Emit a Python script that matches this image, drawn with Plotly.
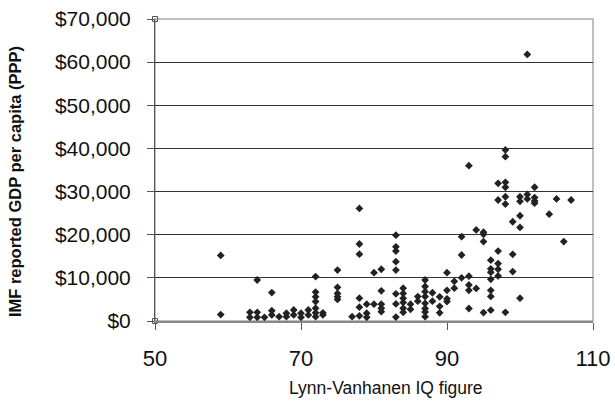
import plotly.graph_objects as go

# Lynn-Vanhanen IQ figure (x) and IMF GDP per capita PPP (y)
iq = (
    [59, 59]
    + [63, 63]
    + [64, 64, 64]
    + [65]
    + [66, 66, 66]
    + [67]
    + [68, 68]
    + [69, 69]
    + [70, 70]
    + [71, 71]
    + [72] * 7
    + [73, 73]
    + [75] * 5
    + [77]
    + [78] * 6
    + [79] * 3
    + [80, 80]
    + [81] * 5
    + [83] * 8
    + [84] * 6
    + [85, 85]
    + [86, 86]
    + [87] * 8
    + [88, 88]
    + [89] * 3
    + [90] * 4
    + [91, 91]
    + [92] * 3
    + [93] * 5
    + [94, 94]
    + [95] * 4
    + [96] * 7
    + [97] * 6
    + [98] * 7
    + [99] * 3
    + [100] * 5
    + [101] * 3
    + [102] * 4
    + [104]
    + [105]
    + [106]
    + [107]
)

gdp = (
    [15200, 1500]
    + [2000, 850]
    + [9500, 2000, 850]
    + [850]
    + [6600, 2400, 1400]
    + [1000]
    + [1800, 1000]
    + [2550, 1400]
    + [1800, 850]
    + [2550, 1400]
    + [10300, 6700, 5600, 4500, 2950, 1900, 1000]
    + [1900, 1400]
    + [11800, 7800, 6400, 5600, 5000]
    + [1000]
    + [26100, 17850, 15500, 5300, 3200, 1200]
    + [3900, 1800, 850]
    + [11200, 3900]
    + [12000, 7000, 3900, 2950, 2150]
    + [19900, 17200, 16200, 13750, 11800, 6300, 3950, 900]
    + [7600, 6400, 5250, 4300, 2950, 2000]
    + [3900, 2700]
    + [5650, 4600]
    + [9500, 8000, 6800, 5650, 4100, 2900, 2100, 1000]
    + [6550, 4600]
    + [5600, 3400, 1900]
    + [11200, 7100, 5150, 4500]
    + [9200, 7600]
    + [19550, 15300, 10000]
    + [36000, 10400, 8350, 7100, 2900]
    + [21100, 7550]
    + [20600, 20100, 18400, 1950]
    + [14100, 12100, 11300, 9650, 7100, 5700, 2500]
    + [31900, 28050, 16200, 13300, 12000, 10450]
    + [39650, 38100, 32150, 31000, 28800, 27100, 2000]
    + [23000, 15450, 11450]
    + [28800, 27750, 24400, 21700, 5300]
    + [61800, 29350, 28300]
    + [31000, 28600, 27800, 27300]
    + [24750]
    + [28300]
    + [18400]
    + [28050]
)

# corner anchor points visible at the axis extremes
anchor_x = [50, 50]
anchor_y = [0, 70000]

x_ticks = [50, 70, 90, 110]
y_ticks = [0, 10000, 20000, 30000, 40000, 50000, 60000, 70000]
y_tick_labels = ["$0", "$10,000", "$20,000", "$30,000", "$40,000",
                 "$50,000", "$60,000", "$70,000"]

x_title = "Lynn-Vanhanen IQ figure"
y_title = "IMF reported GDP per capita (PPP)"

FONT = "Liberation Sans, Arial, sans-serif"

fig = go.Figure()
fig.add_trace(go.Scatter(
    x=anchor_x, y=anchor_y, mode="markers",
    marker=dict(symbol="square-open", size=5, color="#555555", line=dict(width=1)),
    hoverinfo="skip", showlegend=False, cliponaxis=False,
))
fig.add_trace(go.Scatter(
    x=iq, y=gdp, mode="markers",
    marker=dict(symbol="diamond", size=6, color="#222222", line=dict(width=0)),
    showlegend=False, cliponaxis=False,
))

fig.update_layout(
    width=615, height=402,
    margin=dict(l=155, r=22, t=19, b=81),
    paper_bgcolor="white", plot_bgcolor="white",
    font=dict(family=FONT, color="#111111"),
    xaxis=dict(
        range=[50, 110], tickvals=x_ticks, showgrid=False, zeroline=False,
        showline=True, linecolor="#888888", linewidth=2, automargin=False,
        ticks="outside", ticklen=7, tickcolor="#555555", tickwidth=1,
        tickfont=dict(size=22, family=FONT, color="#111111"),
        ticklabelstandoff=10,
    ),
    yaxis=dict(
        range=[0, 70000], tickvals=y_ticks, ticktext=y_tick_labels,
        showgrid=True, gridcolor="#333333", gridwidth=1, zeroline=False,
        showline=True, linecolor="#555555", linewidth=1, automargin=False,
        ticks="outside", ticklen=7, tickcolor="#555555", tickwidth=1,
        tickfont=dict(size=21, family=FONT, color="#111111"),
        ticklabelstandoff=12,
    ),
    shapes=[dict(
        type="rect", xref="paper", yref="paper", x0=0, x1=1, y0=0, y1=1,
        line=dict(color="#aaaaaa", width=1.5), layer="below",
    )],
    annotations=[
        dict(text=x_title, xref="paper", yref="paper", x=0.527, y=-0.222,
             xanchor="center", yanchor="middle", showarrow=False,
             font=dict(size=17.5, family=FONT, color="#111111")),
        dict(text="<b>" + y_title + "</b>", xref="paper", yref="paper",
             x=-0.3196, y=0.46, xanchor="center", yanchor="middle",
             textangle=-90, showarrow=False,
             font=dict(size=16.5, family=FONT, color="#111111")),
    ],
)

fig.write_html(
    "out.html",
    config={"displayModeBar": False},
    post_script="document.body.style.margin='0';document.body.style.overflow='hidden';",
)
